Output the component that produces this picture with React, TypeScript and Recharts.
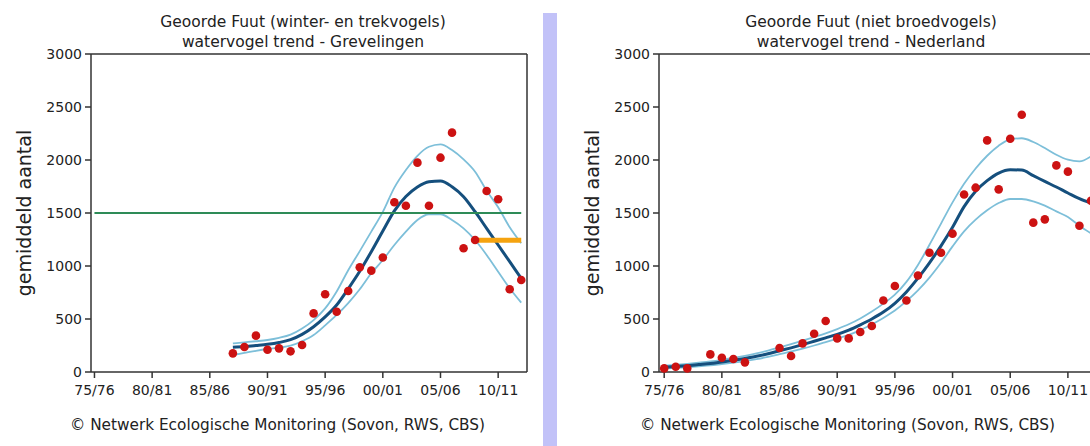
import React from 'react';
import { ComposedChart, Line, Scatter, XAxis, YAxis, ReferenceLine } from 'recharts';

const FONT = "'DejaVu Sans', Verdana, sans-serif";

const seasonTicks = [1975, 1980, 1985, 1990, 1995, 2000, 2005, 2010];
const countTicks = [0, 500, 1000, 1500, 2000, 2500, 3000];
const countMax = 3000;

// Grevelingen, winter- en trekvogels (seizoen 87/88 t/m 12/13)
const grevYears = [1987, 1988, 1989, 1990, 1991, 1992, 1993, 1994, 1995, 1996, 1997, 1998, 1999,
  2000, 2001, 2002, 2003, 2004, 2005, 2006, 2007, 2008, 2009, 2010, 2011, 2012];
const grevCounts = [176, 236, 343, 210, 223, 195, 255, 553, 733, 569, 764, 988, 956,
  1080, 1601, 1569, 1975, 1569, 2022, 2258, 1167, 1245, 1708, 1630, 780, 868];
const grevTrend = [233, 240, 250, 261, 278, 305, 355, 427, 520, 632, 785, 950, 1135,
  1330, 1520, 1655, 1745, 1795, 1802, 1748, 1654, 1512, 1355, 1198, 1041, 884];
const grevUpper = [270, 280, 290, 302, 322, 352, 410, 490, 600, 760, 960, 1140, 1324,
  1510, 1740, 1906, 2040, 2125, 2148, 2094, 2006, 1890, 1711, 1554, 1365, 1214];
const grevLower = [160, 180, 200, 217, 230, 248, 290, 349, 440, 538, 650, 780, 931,
  1057, 1198, 1324, 1434, 1488, 1488, 1434, 1355, 1245, 1104, 946, 790, 654];
const grevNorm = 1500;
const grevRecent = { from: 2008, to: 2012, value: 1242 };

// Nederland, niet broedvogels (seizoen 75/76 t/m 12/13)
const nlYears = [1975, 1976, 1977, 1978, 1979, 1980, 1981, 1982, 1983, 1984, 1985, 1986, 1987,
  1988, 1989, 1990, 1991, 1992, 1993, 1994, 1995, 1996, 1997, 1998, 1999, 2000,
  2001, 2002, 2003, 2004, 2005, 2006, 2007, 2008, 2009, 2010, 2011, 2012];
const nlCounts = [34, 50, 34, null, 166, 135, 122, 91, null, null, 226, 151, 270,
  361, 481, 317, 317, 377, 434, 675, 811, 675, 911, 1125, 1125, 1305,
  1675, 1739, 2185, 1723, 2201, 2427, 1409, 1440, 1949, 1890, 1380, 1616];
const nlTrend = [45, 52, 60, 70, 80, 95, 110, 128, 148, 172, 200, 228, 258,
  290, 322, 355, 395, 445, 500, 565, 648, 755, 885, 1030, 1190, 1365,
  1560, 1705, 1805, 1877, 1908, 1905, 1852, 1798, 1745, 1689, 1635, 1594];
const nlUpper = [60, 68, 77, 88, 100, 115, 132, 152, 175, 202, 232, 263, 296,
  330, 365, 405, 450, 505, 570, 645, 730, 850, 1010, 1200, 1400, 1600,
  1775, 1920, 2040, 2135, 2195, 2205, 2170, 2113, 2050, 2003, 1987, 2034];
const nlLower = [32, 38, 45, 53, 62, 75, 88, 103, 121, 142, 168, 194, 221,
  250, 282, 315, 350, 395, 450, 510, 580, 668, 770, 890, 1030, 1185,
  1327, 1437, 1525, 1594, 1632, 1632, 1610, 1569, 1515, 1462, 1380, 1308];

const season = (y: number) =>
  `${String(y % 100).padStart(2, '0')}/${String((y + 1) % 100).padStart(2, '0')}`;

const buildRows = (years: number[], trend: number[], upper: number[], lower: number[]) =>
  years.map((year, i) => ({ year, trend: trend[i], upper: upper[i], lower: lower[i] }));

const buildPoints = (years: number[], counts: (number | null)[]) =>
  years.map((year, i) => ({ year, count: counts[i] })).filter((p) => p.count != null);

const AXIS = { stroke: '#333', strokeWidth: 1.5 };
const tickStyle = { fontSize: 14, fontFamily: FONT, fill: '#222' };

const Dot = (props: any) => <circle cx={props.cx} cy={props.cy} r={4.3} fill="#cc1212" />;

interface PanelProps {
  width: number;
  marginLeft: number;
  domain: [number, number];
  rows: any[];
  points: any[];
  children?: React.ReactNode;
}

const TrendPanel = ({ width, marginLeft, domain, rows, points, children }: PanelProps) => (
  <ComposedChart
    width={width}
    height={446}
    data={rows}
    margin={{ top: 54, right: 18, bottom: 44, left: marginLeft }}
  >
    <XAxis
      dataKey="year"
      type="number"
      domain={domain}
      ticks={seasonTicks}
      tickFormatter={season}
      allowDataOverflow
      height={30}
      tick={tickStyle}
      tickSize={6}
      tickMargin={7}
      axisLine={AXIS}
      tickLine={AXIS}
    />
    <YAxis
      type="number"
      domain={[0, countMax]}
      ticks={countTicks}
      width={60}
      tick={tickStyle}
      tickSize={6}
      tickMargin={3}
      axisLine={AXIS}
      tickLine={AXIS}
    />

    {/* frame: top and right edges of the plot box */}
    <ReferenceLine y={countMax} stroke={AXIS.stroke} strokeWidth={AXIS.strokeWidth} />
    <ReferenceLine x={domain[1]} stroke={AXIS.stroke} strokeWidth={AXIS.strokeWidth} />

    <Line type="monotone" dataKey="upper" stroke="#7dbfd9" strokeWidth={1.8} dot={false} isAnimationActive={false} />
    <Line type="monotone" dataKey="lower" stroke="#7dbfd9" strokeWidth={1.8} dot={false} isAnimationActive={false} />
    <Line type="monotone" dataKey="trend" stroke="#154f7d" strokeWidth={3} dot={false} isAnimationActive={false} />
    {children}
    <Scatter data={points} dataKey="count" shape={Dot} isAnimationActive={false} />
  </ComposedChart>
);

const textBase: React.CSSProperties = {
  position: 'absolute',
  fontFamily: FONT,
  color: '#222',
  whiteSpace: 'nowrap',
};

const Title = ({ x, lines }: { x: number; lines: string[] }) => (
  <div style={{ ...textBase, left: x, top: 12, transform: 'translateX(-50%)', fontSize: 15.5, lineHeight: '20px', textAlign: 'center' }}>
    {lines.map((l) => <div key={l}>{l}</div>)}
  </div>
);

const AxisTitle = ({ x }: { x: number }) => (
  <div style={{ ...textBase, left: x, top: 213, fontSize: 19, transform: 'translate(-50%, -50%) rotate(-90deg)' }}>
    gemiddeld aantal
  </div>
);

const Credit = ({ x }: { x: number }) => (
  <div style={{ ...textBase, left: x, top: 416, fontSize: 15.3 }}>
    © Netwerk Ecologische Monitoring (Sovon, RWS, CBS)
  </div>
);

export default function App() {
  const grevRows = buildRows(grevYears, grevTrend, grevUpper, grevLower);
  const grevPoints = buildPoints(grevYears, grevCounts);
  const nlRows = buildRows(nlYears, nlTrend, nlUpper, nlLower);
  const nlPoints = buildPoints(nlYears, nlCounts);

  return (
    <div style={{ position: 'absolute', left: 0, top: 0, width: 1090, height: 446, overflow: 'hidden', background: '#fff' }}>
      <div style={{ position: 'absolute', left: 0, top: 0 }}>
        <TrendPanel width={545} marginLeft={31} domain={[1974.7, 2012.5]} rows={grevRows} points={grevPoints}>
          <ReferenceLine
            segment={[{ x: 1975, y: grevNorm }, { x: 2012, y: grevNorm }]}
            stroke="#2e8b57"
            strokeWidth={2}
          />
          <ReferenceLine
            segment={[{ x: grevRecent.from, y: grevRecent.value }, { x: grevRecent.to, y: grevRecent.value }]}
            stroke="#f5a30f"
            strokeWidth={5}
          />
        </TrendPanel>
      </div>
      <Title x={303} lines={['Geoorde Fuut (winter- en trekvogels)', 'watervogel trend - Grevelingen']} />
      <AxisTitle x={24} />
      <Credit x={70} />

      <div style={{ position: 'absolute', left: 543, top: 13, width: 14, height: 433, background: '#c2c2f8' }} />

      <div style={{ position: 'absolute', left: 557, top: 0 }}>
        <TrendPanel width={556} marginLeft={42} domain={[1974.55, 2012.35]} rows={nlRows} points={nlPoints} />
      </div>
      <Title x={871} lines={['Geoorde Fuut (niet broedvogels)', 'watervogel trend - Nederland']} />
      <AxisTitle x={592} />
      <Credit x={640} />
    </div>
  );
}
